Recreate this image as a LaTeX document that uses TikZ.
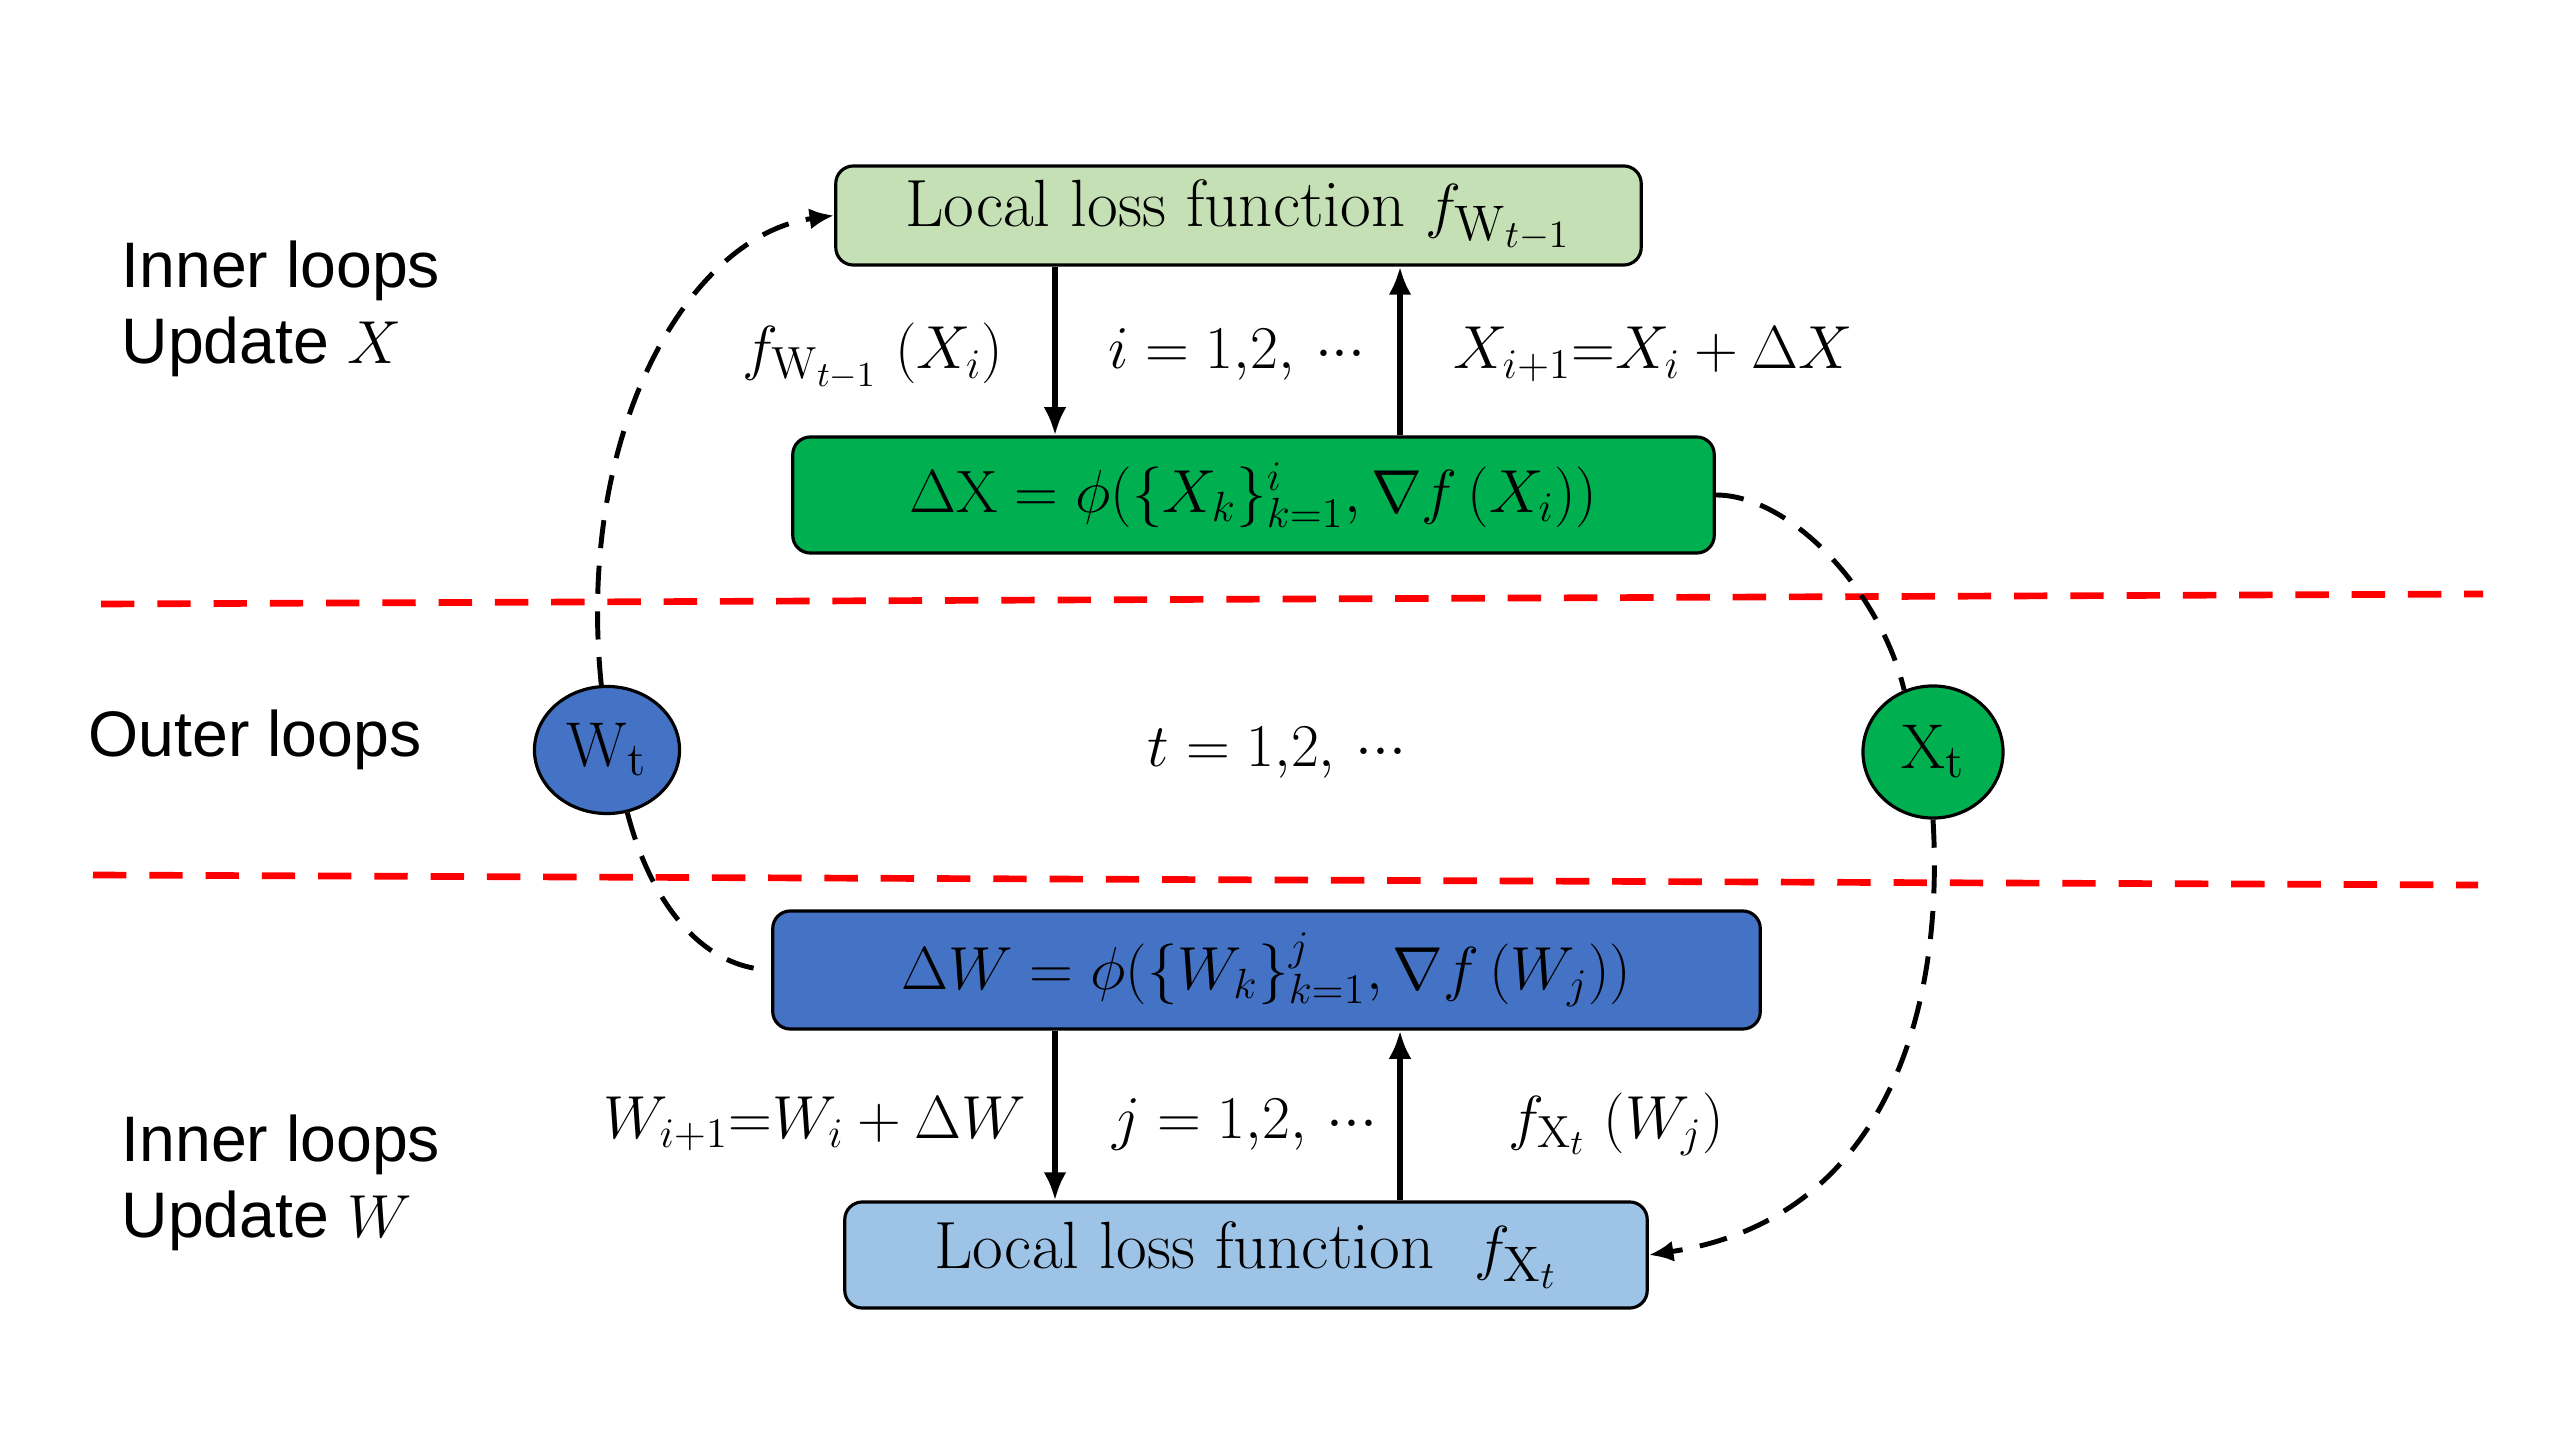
\documentclass[tikz,border=0pt]{standalone}
\usepackage{fontspec}
\newfontfamily\labelfont{Liberation Sans}
\usetikzlibrary{arrows.meta,shapes.geometric}
\DeclareMathSizes{17}{17}{12.8}{10}
\DeclareMathSizes{17.6}{17.6}{13.2}{10.4}
\DeclareMathSizes{19}{19}{14.2}{11}
\DeclareMathSizes{18}{18}{13.5}{10.6}
\definecolor{lgreen}{HTML}{C5E0B4}
\definecolor{dgreen}{HTML}{00B050}
\definecolor{mblue}{HTML}{4472C4}
\definecolor{lblue}{HTML}{9DC3E6}
\newcommand{\mydots}{\mathord{{\cdot}{\cdot}{\cdot}}}
\tikzset{
 box/.style={draw=black, line width=0.9pt, rounded corners=5pt, inner sep=0pt, font=\fontsize{19}{22}\selectfont},
 mathbox/.style={box, font=\fontsize{17}{20}\selectfont},
 lab/.style={font=\fontsize{17}{20}\selectfont, inner sep=0pt},
 side/.style={font=\labelfont\fontsize{18.3}{21.6}\selectfont, inner sep=0pt, anchor=west},
 flow/.style={line width=1.5pt, -{Latex[length=8pt,width=6.5pt]}},
 loop/.style={line width=1.4pt, dash pattern=on 8pt off 5pt},
 looparrow/.style={loop, -{Latex[length=7pt,width=6pt]}},
 sep/.style={draw=red, line width=1.9pt, dash pattern=on 9.5pt off 6.5pt},
 circ/.style={ellipse, draw=black, line width=0.9pt, inner sep=0pt, font=\fontsize{18}{21}\selectfont}
}
\begin{document}
\begin{tikzpicture}[x=0.01cm,y=-0.01cm]
\path[fill=white, use as bounding box] (0,0) rectangle (2560,1440);

% separators
\coordinate (r1a) at (101,604);
\coordinate (r1b) at (2483,594);
\coordinate (r2a) at (93,875);
\coordinate (r2b) at (2478,885);
\draw[sep] (r1a) -- (r1b);
\draw[sep] (r2a) -- (r2b);

% boxes
\node[box, fill=lgreen, minimum width=8.05cm, minimum height=0.99cm] (lg) at (1238.5,215.5) {Local loss function $f_{\mathrm{W}_{t-1}}$};
\node[mathbox, fill=dgreen, minimum width=9.21cm, minimum height=1.16cm] (dx) at (1253.5,495) {$\Delta\mathrm{X}=\phi(\{X_k\}_{k=1}^{i},\nabla f\,(X_i))$};
\node[mathbox, fill=mblue, minimum width=9.87cm, minimum height=1.18cm, font=\fontsize{17.6}{20}\selectfont] (dw) at (1266.5,970) {$\Delta W=\phi(\{W_k\}_{k=1}^{j},\nabla f\,(W_j))$};
\node[box, fill=lblue, minimum width=8.02cm, minimum height=1.06cm] (lb) at (1246,1255) {Local loss function\ \ $f_{\mathrm{X}_t}$};

% circles
\node[circ, fill=mblue, minimum width=1.45cm, minimum height=1.27cm] (wt) at (607,750) {$\mathrm{W_t}$};
\node[circ, fill=dgreen, minimum width=1.40cm, minimum height=1.32cm] (xt) at (1933,752) {$\mathrm{X_t}$};

% vertical arrows
\coordinate (ax) at (1055,0);
\coordinate (bx) at (1400,0);
\draw[flow] (lg.south -| ax) -- (dx.north -| ax);
\draw[flow] (dx.north -| bx) -- (lg.south -| bx);
\draw[flow] (dw.south -| ax) -- (lb.north -| ax);
\draw[flow] (lb.north -| bx) -- (dw.south -| bx);

% labels
\node[lab, anchor=base] (l1) at (873,369) {$f_{\mathrm{W}_{t-1}}\;(X_i)$};
\node[lab, anchor=base] (l2) at (1237,369) {$i=1{,}2,\,\mydots$};
\node[lab, anchor=base] (l3) at (1653,369) {$X_{i+1}{=}X_i+\Delta X$};
\node[lab, anchor=base] (l4) at (1277,767) {$t=1{,}2,\,\mydots$};
\node[lab, anchor=base] (l5) at (815,1138) {$W_{i+1}{=}W_i+\Delta W$};
\node[lab, anchor=base] (l6) at (1245,1138) {$j=1{,}2,\,\mydots$};
\node[lab, anchor=base] (l7) at (1616,1138) {$f_{\mathrm{X}_t}\;(W_j)$};

% side labels
\node[side, align=left] (s1) at (121,309) {Inner loops\\Update $X$};
\node[side] (s2) at (88,740) {Outer loops};
\node[side, align=left] (s3) at (121,1183) {Inner loops\\Update $W$};

% dashed loop connectors
\draw[looparrow] (wt.95) .. controls (575,430) and (690,235) .. (lg.west);
\draw[loop] (dx.east) .. controls (1790,495) and (1880,590) .. (xt.115);
\draw[loop] (wt.-72) .. controls (650,900) and (700,968) .. (dw.west);
\draw[looparrow] (xt.south) .. controls (1945,1020) and (1880,1220) .. (lb.east);
\end{tikzpicture}
\end{document}
